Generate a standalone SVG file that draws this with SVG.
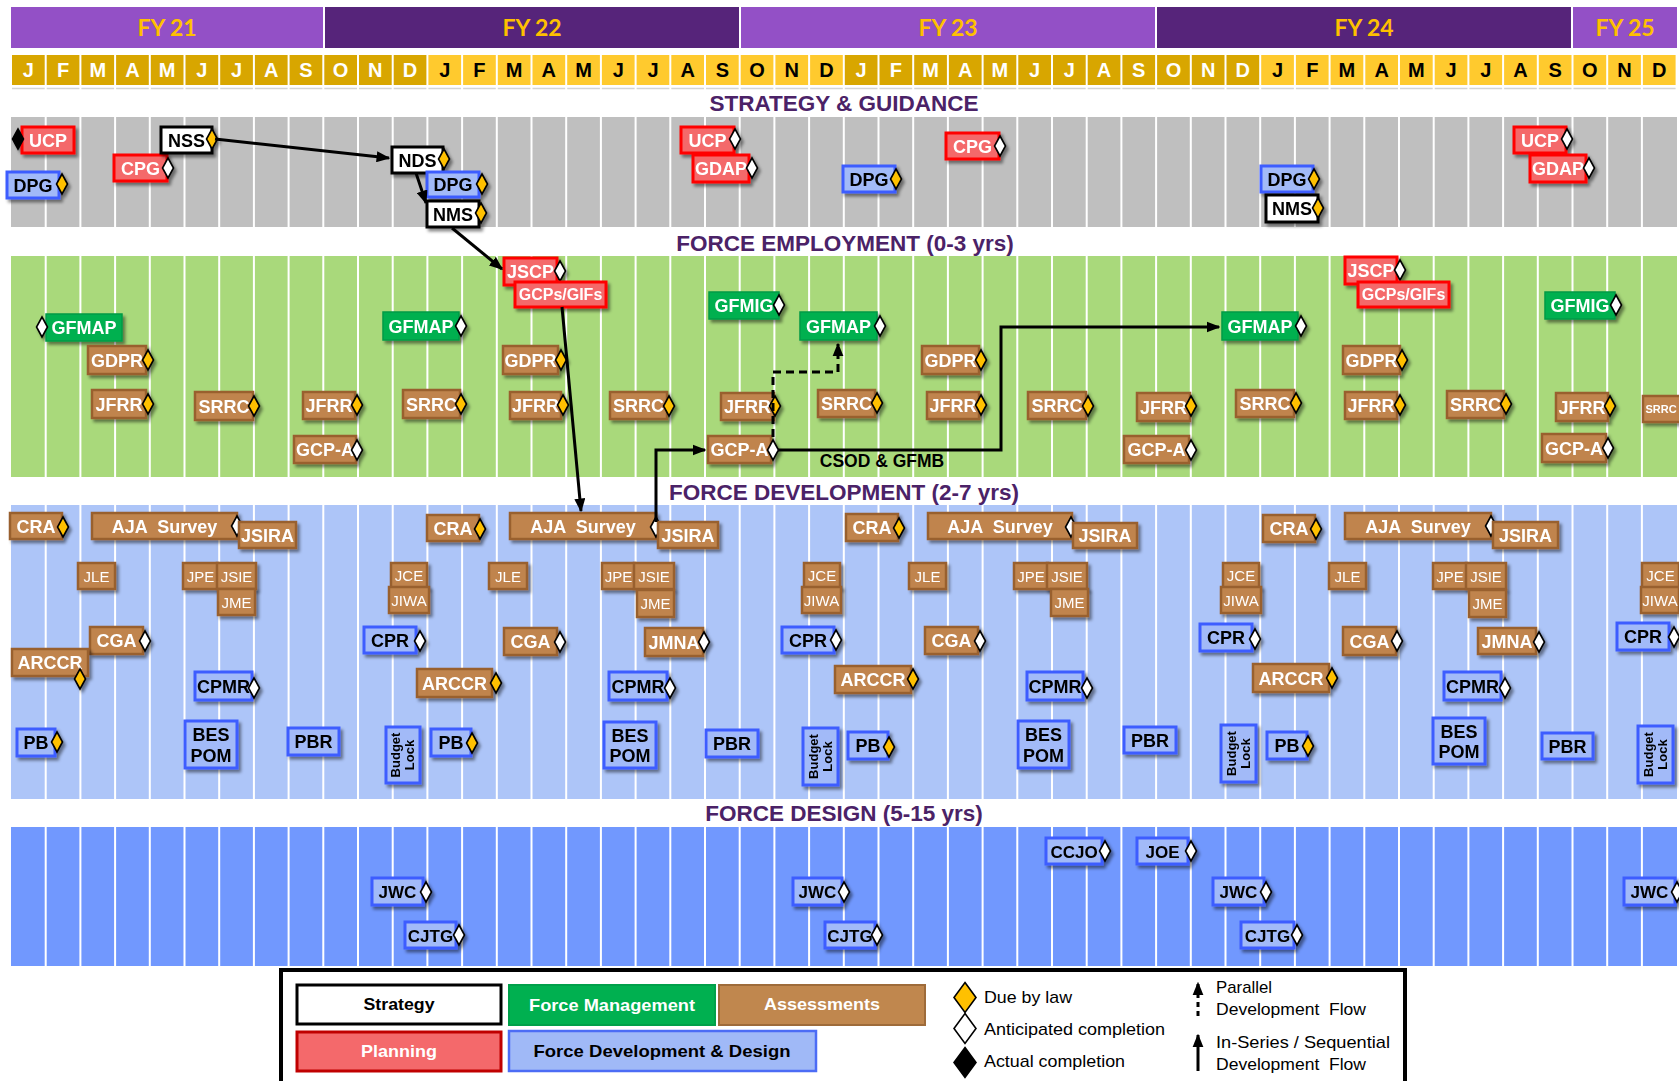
<svg xmlns="http://www.w3.org/2000/svg" xmlns:xlink="http://www.w3.org/1999/xlink" width="1679" height="1081" viewBox="0 0 1679 1081">
<style>
text{font-family:"Liberation Sans",Arial,sans-serif}
.fy{font-family:Lato,"Liberation Sans",sans-serif;font-weight:bold;font-size:23px;fill:#FFC000;text-anchor:middle}
.fyl{fill:#9350C6}.fyd{fill:#56247A}
.md{fill:#D8A600}.mb{fill:#FFCA2E}
.mt{font-weight:bold;font-size:20px;text-anchor:middle}
.mw{fill:#fff}.mk{fill:#000}
.sec{font-weight:bold;font-size:22.5px;fill:#4B2267;text-anchor:middle}
.n{filter:url(#sh)}
.n text{font-weight:bold;font-size:18px;text-anchor:middle;fill:#fff}
.st rect{fill:#fff;stroke:#000;stroke-width:3}
.st text,.dv text{fill:#000}
.pl rect{fill:#F4696B;stroke:#FF0000;stroke-width:3}
.fm rect{fill:#00B050;stroke:#009A46;stroke-width:1.5}
.as rect{fill:#C0844E;stroke:#99612F;stroke-width:2.5}
.dv rect{fill:#A2BAF8;stroke:#3C5DFF;stroke-width:3}
.n.sm text{font-weight:normal;font-size:15px}
.n.dz text{font-size:17px}
.n.bl text{font-size:13px}
.due{fill:#FFC000;stroke:#000;stroke-width:1.6}
.ant{fill:#fff;stroke:#000;stroke-width:1.6}
.act{fill:#000;stroke:#000;stroke-width:1.6}
.cn{fill:none;stroke:#000;stroke-width:3}
.lg{font-size:17px}
.lb{font-weight:bold;font-size:17px;text-anchor:middle}
</style>
<defs>
<filter id="sh" x="-20%" y="-20%" width="150%" height="160%"><feDropShadow dx="2.5" dy="3" stdDeviation="1.6" flood-color="#000" flood-opacity="0.45"/></filter>
<marker id="ah" viewBox="0 0 10 8" refX="9" refY="4" markerWidth="4.6" markerHeight="3.7" orient="auto" markerUnits="strokeWidth"><path d="M0,0L10,4L0,8z" fill="#000"/></marker>
<path id="dm" d="M0,-10L5.5,0L0,10L-5.5,0Z"/>
<path id="dmL" d="M0,-15L11,0L0,15L-11,0Z"/>
</defs>
<rect x="0" y="0" width="1679" height="1081" fill="#fff"/>

<g id="header">
<rect class="fyl" x="11" y="7" width="312" height="41"/>
<rect class="fyd" x="325" y="7" width="414" height="41"/>
<rect class="fyl" x="741" y="7" width="414" height="41"/>
<rect class="fyd" x="1157" y="7" width="414" height="41"/>
<rect class="fyl" x="1573" y="7" width="104" height="41"/>
<text class="fy" x="167" y="36">FY 21</text>
<text class="fy" x="532" y="36">FY 22</text>
<text class="fy" x="948" y="36">FY 23</text>
<text class="fy" x="1364" y="36">FY 24</text>
<text class="fy" x="1625" y="36">FY 25</text>
<g id="months">
<rect class="md" x="12" y="55" width="32.7" height="30"/><rect class="md" x="46.7" y="55" width="32.7" height="30"/><rect class="md" x="81.4" y="55" width="32.7" height="30"/><rect class="md" x="116.1" y="55" width="32.7" height="30"/><rect class="md" x="150.8" y="55" width="32.7" height="30"/><rect class="md" x="185.5" y="55" width="32.7" height="30"/><rect class="md" x="220.2" y="55" width="32.7" height="30"/><rect class="md" x="254.9" y="55" width="32.7" height="30"/><rect class="md" x="289.6" y="55" width="32.7" height="30"/><rect class="md" x="324.3" y="55" width="32.7" height="30"/><rect class="md" x="359" y="55" width="32.7" height="30"/><rect class="md" x="393.7" y="55" width="32.7" height="30"/>
<rect class="mb" x="428.4" y="55" width="32.7" height="30"/><rect class="mb" x="463.1" y="55" width="32.7" height="30"/><rect class="mb" x="497.8" y="55" width="32.7" height="30"/><rect class="mb" x="532.5" y="55" width="32.7" height="30"/><rect class="mb" x="567.2" y="55" width="32.7" height="30"/><rect class="mb" x="601.9" y="55" width="32.7" height="30"/><rect class="mb" x="636.6" y="55" width="32.7" height="30"/><rect class="mb" x="671.3" y="55" width="32.7" height="30"/><rect class="mb" x="706" y="55" width="32.7" height="30"/><rect class="mb" x="740.7" y="55" width="32.7" height="30"/><rect class="mb" x="775.4" y="55" width="32.7" height="30"/><rect class="mb" x="810.1" y="55" width="32.7" height="30"/>
<rect class="md" x="844.8" y="55" width="32.7" height="30"/><rect class="md" x="879.5" y="55" width="32.7" height="30"/><rect class="md" x="914.2" y="55" width="32.7" height="30"/><rect class="md" x="948.9" y="55" width="32.7" height="30"/><rect class="md" x="983.6" y="55" width="32.7" height="30"/><rect class="md" x="1018.3" y="55" width="32.7" height="30"/><rect class="md" x="1053" y="55" width="32.7" height="30"/><rect class="md" x="1087.7" y="55" width="32.7" height="30"/><rect class="md" x="1122.4" y="55" width="32.7" height="30"/><rect class="md" x="1157.1" y="55" width="32.7" height="30"/><rect class="md" x="1191.8" y="55" width="32.7" height="30"/><rect class="md" x="1226.5" y="55" width="32.7" height="30"/>
<rect class="mb" x="1261.2" y="55" width="32.7" height="30"/><rect class="mb" x="1295.9" y="55" width="32.7" height="30"/><rect class="mb" x="1330.6" y="55" width="32.7" height="30"/><rect class="mb" x="1365.3" y="55" width="32.7" height="30"/><rect class="mb" x="1400" y="55" width="32.7" height="30"/><rect class="mb" x="1434.7" y="55" width="32.7" height="30"/><rect class="mb" x="1469.4" y="55" width="32.7" height="30"/><rect class="mb" x="1504.1" y="55" width="32.7" height="30"/><rect class="mb" x="1538.8" y="55" width="32.7" height="30"/><rect class="mb" x="1573.5" y="55" width="32.7" height="30"/><rect class="mb" x="1608.2" y="55" width="32.7" height="30"/><rect class="mb" x="1642.9" y="55" width="32.7" height="30"/>
<g class="mt mw">
<text x="28.35" y="77">J</text><text x="63.05" y="77">F</text><text x="97.75" y="77">M</text><text x="132.45" y="77">A</text><text x="167.15" y="77">M</text><text x="201.85" y="77">J</text><text x="236.55" y="77">J</text><text x="271.25" y="77">A</text><text x="305.95" y="77">S</text><text x="340.65" y="77">O</text><text x="375.35" y="77">N</text><text x="410.05" y="77">D</text>
<text x="861.15" y="77">J</text><text x="895.85" y="77">F</text><text x="930.55" y="77">M</text><text x="965.25" y="77">A</text><text x="999.95" y="77">M</text><text x="1034.65" y="77">J</text><text x="1069.35" y="77">J</text><text x="1104.05" y="77">A</text><text x="1138.75" y="77">S</text><text x="1173.45" y="77">O</text><text x="1208.15" y="77">N</text><text x="1242.85" y="77">D</text>
</g>
<g class="mt mk">
<text x="444.75" y="77">J</text><text x="479.45" y="77">F</text><text x="514.15" y="77">M</text><text x="548.85" y="77">A</text><text x="583.55" y="77">M</text><text x="618.25" y="77">J</text><text x="652.95" y="77">J</text><text x="687.65" y="77">A</text><text x="722.35" y="77">S</text><text x="757.05" y="77">O</text><text x="791.75" y="77">N</text><text x="826.45" y="77">D</text>
<text x="1277.55" y="77">J</text><text x="1312.25" y="77">F</text><text x="1346.95" y="77">M</text><text x="1381.65" y="77">A</text><text x="1416.35" y="77">M</text><text x="1451.05" y="77">J</text><text x="1485.75" y="77">J</text><text x="1520.45" y="77">A</text><text x="1555.15" y="77">S</text><text x="1589.85" y="77">O</text><text x="1624.55" y="77">N</text><text x="1659.25" y="77">D</text>
</g>
</g>
<line x1="12" y1="88.5" x2="1677" y2="88.5" stroke="#D4D4D4" stroke-width="1.5" stroke-dasharray="32.7 2"/>
</g>

<g id="bands">
<rect x="11" y="117" width="1666" height="110" fill="#BFBFBF"/>
<rect x="11" y="256" width="1666" height="221" fill="#A9D97B"/>
<rect x="11" y="505" width="1666" height="294" fill="#ADC5F8"/>
<rect x="11" y="827" width="1666" height="139" fill="#7198FE"/>
<path fill="none" stroke="#fff" stroke-width="2" d="M45.7,117V966M80.4,117V966M115.1,117V966M149.8,117V966M184.5,117V966M219.2,117V966M253.9,117V966M288.6,117V966M323.3,117V966M358,117V966M392.7,117V966M427.4,117V966M462.1,117V966M496.8,117V966M531.5,117V966M566.2,117V966M600.9,117V966M635.6,117V966M670.3,117V966M705,117V966M739.7,117V966M774.4,117V966M809.1,117V966M843.8,117V966M878.5,117V966M913.2,117V966M947.9,117V966M982.6,117V966M1017.3,117V966M1052,117V966M1086.7,117V966M1121.4,117V966M1156.1,117V966M1190.8,117V966M1225.5,117V966M1260.2,117V966M1294.9,117V966M1329.6,117V966M1364.3,117V966M1399,117V966M1433.7,117V966M1468.4,117V966M1503.1,117V966M1537.8,117V966M1572.5,117V966M1607.2,117V966M1641.9,117V966"/>
</g>

<g id="section-labels">
<text class="sec" x="844" y="111">STRATEGY &amp; GUIDANCE</text>
<text class="sec" x="845" y="251">FORCE EMPLOYMENT (0-3 yrs)</text>
<text class="sec" x="844" y="500">FORCE DEVELOPMENT (2-7 yrs)</text>
<text class="sec" x="844" y="821">FORCE DESIGN (5-15 yrs)</text>
</g>

<g id="strategy-nodes">
<g id="s-ucp1" class="n pl"><rect x="22" y="127" width="52" height="26"/><text x="48" y="146.5">UCP</text><use href="#dm" class="act" x="18" y="139"/></g>
<g id="s-dpg1" class="n dv"><rect x="7" y="172" width="52" height="26"/><text x="33" y="191.5">DPG</text><use href="#dm" class="due" x="62" y="184"/></g>
<g id="s-cpg1" class="n pl"><rect x="114" y="155" width="53" height="26"/><text x="140.5" y="174.5">CPG</text><use href="#dm" class="ant" x="168" y="168"/></g>
<g id="s-nss" class="n st"><rect x="161" y="127" width="51" height="26"/><text x="186.5" y="146.5">NSS</text><use href="#dm" class="due" x="212" y="139"/></g>
<g id="s-nds" class="n st"><rect x="392" y="147" width="51" height="26"/><text x="417.5" y="166.5">NDS</text><use href="#dm" class="due" x="444" y="159"/></g>
<g id="s-dpg2" class="n dv"><rect x="427" y="172" width="52" height="25"/><text x="453" y="191">DPG</text><use href="#dm" class="due" x="482" y="184"/></g>
<g id="s-nms1" class="n st"><rect x="427" y="201" width="52" height="26"/><text x="453" y="220.5">NMS</text><use href="#dm" class="due" x="481" y="213"/></g>
<g id="s-ucp2" class="n pl"><rect x="681" y="127" width="53" height="26"/><text x="707.5" y="146.5">UCP</text><use href="#dm" class="ant" x="735" y="139"/></g>
<g id="s-gdap1" class="n pl"><rect x="693" y="155" width="56" height="27"/><text x="721" y="175">GDAP</text><use href="#dm" class="ant" x="752" y="168"/></g>
<g id="s-dpg3" class="n dv"><rect x="843" y="166" width="52" height="26"/><text x="869" y="185.5">DPG</text><use href="#dm" class="due" x="896" y="179"/></g>
<g id="s-cpg2" class="n pl"><rect x="946" y="133" width="53" height="26"/><text x="972.5" y="152.5">CPG</text><use href="#dm" class="ant" x="1000" y="146"/></g>
<g id="s-dpg4" class="n dv"><rect x="1261" y="166" width="52" height="26"/><text x="1287" y="185.5">DPG</text><use href="#dm" class="due" x="1314" y="179"/></g>
<g id="s-nms2" class="n st"><rect x="1266" y="195" width="52" height="27"/><text x="1292" y="215">NMS</text><use href="#dm" class="due" x="1318" y="208"/></g>
<g id="s-ucp3" class="n pl"><rect x="1514" y="127" width="52" height="26"/><text x="1540" y="146.5">UCP</text><use href="#dm" class="ant" x="1567" y="139"/></g>
<g id="s-gdap2" class="n pl"><rect x="1530" y="155" width="56" height="27"/><text x="1558" y="175">GDAP</text><use href="#dm" class="ant" x="1589" y="168"/></g>
</g>

<g id="employment-nodes">
<g id="fe-gfmap1" class="n fm"><rect x="46" y="314" width="76" height="27"/><text x="84" y="334">GFMAP</text><use href="#dm" class="ant" x="42" y="327"/></g>
<g id="fe-gdpr1" class="n as"><rect x="88" y="346" width="58" height="28"/><text x="117" y="366.5">GDPR</text><use href="#dm" class="due" x="148" y="360"/></g>
<g id="fe-jfrr1" class="n as"><rect x="92" y="390" width="54" height="28"/><text x="119" y="410.5">JFRR</text><use href="#dm" class="due" x="148" y="404"/></g>
<g id="fe-srrc1" class="n as"><rect x="195" y="392" width="58" height="28"/><text x="224" y="412.5">SRRC</text><use href="#dm" class="due" x="254" y="406"/></g>
<g id="fe-jfrr2" class="n as"><rect x="303" y="392" width="52" height="27"/><text x="329" y="412">JFRR</text><use href="#dm" class="due" x="357" y="405"/></g>
<g id="fe-gcpa1" class="n as"><rect x="294" y="436" width="62" height="27"/><text x="325" y="456">GCP-A</text><use href="#dm" class="ant" x="357" y="450"/></g>
<g id="fe-gfmap2" class="n fm"><rect x="383" y="312" width="76" height="28"/><text x="421" y="332.5">GFMAP</text><use href="#dm" class="ant" x="461" y="326"/></g>
<g id="fe-srrc2" class="n as"><rect x="403" y="390" width="57" height="28"/><text x="431.5" y="410.5">SRRC</text><use href="#dm" class="due" x="461" y="404"/></g>
<g id="fe-jscp1" class="n pl"><rect x="504" y="258" width="53" height="27"/><text x="530.5" y="278">JSCP</text><use href="#dm" class="ant" x="560" y="271"/></g>
<g id="fe-gcps1" class="n pl"><rect x="515" y="282" width="91" height="25"/><text x="560.5" y="300" style="font-size:16px">GCPs/GIFs</text></g>
<g id="fe-gdpr2" class="n as"><rect x="503" y="346" width="55" height="28"/><text x="530.5" y="366.5">GDPR</text><use href="#dm" class="due" x="561" y="360"/></g>
<g id="fe-jfrr3" class="n as"><rect x="510" y="392" width="51" height="27"/><text x="535.5" y="412">JFRR</text><use href="#dm" class="due" x="563" y="405"/></g>
<g id="fe-srrc3" class="n as"><rect x="610" y="392" width="57" height="27"/><text x="638.5" y="412">SRRC</text><use href="#dm" class="due" x="669" y="406"/></g>
<g id="fe-gfmig1" class="n fm"><rect x="709" y="292" width="70" height="27"/><text x="744" y="312">GFMIG</text><use href="#dm" class="ant" x="779" y="305"/></g>
<g id="fe-jfrr4" class="n as"><rect x="721" y="393" width="53" height="27"/><text x="747.5" y="413">JFRR</text><use href="#dm" class="due" x="775" y="406"/></g>
<g id="fe-gcpa2" class="n as"><rect x="708" y="436" width="63" height="27"/><text x="739.5" y="456">GCP-A</text><use href="#dm" class="ant" x="773" y="450"/></g>
<g id="fe-gfmap3" class="n fm"><rect x="800" y="312" width="77" height="28"/><text x="838.5" y="332.5">GFMAP</text><use href="#dm" class="ant" x="880" y="326"/></g>
<g id="fe-srrc4" class="n as"><rect x="818" y="390" width="57" height="27"/><text x="846.5" y="410">SRRC</text><use href="#dm" class="due" x="877" y="403"/></g>
<g id="fe-gdpr3" class="n as"><rect x="922" y="346" width="57" height="28"/><text x="950.5" y="366.5">GDPR</text><use href="#dm" class="due" x="981" y="360"/></g>
<g id="fe-jfrr5" class="n as"><rect x="927" y="392" width="52" height="27"/><text x="953" y="412">JFRR</text><use href="#dm" class="due" x="981" y="405"/></g>
<g id="fe-srrc5" class="n as"><rect x="1028" y="392" width="58" height="27"/><text x="1057" y="412">SRRC</text><use href="#dm" class="due" x="1088" y="406"/></g>
<g id="fe-jfrr6" class="n as"><rect x="1137" y="393" width="53" height="28"/><text x="1163.5" y="413.5">JFRR</text><use href="#dm" class="due" x="1191" y="406"/></g>
<g id="fe-gcpa3" class="n as"><rect x="1124" y="436" width="65" height="27"/><text x="1156.5" y="456">GCP-A</text><use href="#dm" class="ant" x="1191" y="450"/></g>
<g id="fe-gfmap4" class="n fm"><rect x="1222" y="312" width="76" height="28"/><text x="1260" y="332.5">GFMAP</text><use href="#dm" class="ant" x="1301" y="326"/></g>
<g id="fe-srrc6" class="n as"><rect x="1236" y="390" width="58" height="27"/><text x="1265" y="410">SRRC</text><use href="#dm" class="due" x="1296" y="403"/></g>
<g id="fe-jscp2" class="n pl"><rect x="1345" y="257" width="52" height="27"/><text x="1371" y="277">JSCP</text><use href="#dm" class="ant" x="1400" y="270"/></g>
<g id="fe-gcps2" class="n pl"><rect x="1358" y="282" width="91" height="25"/><text x="1403.5" y="300" style="font-size:16px">GCPs/GIFs</text></g>
<g id="fe-gdpr4" class="n as"><rect x="1343" y="346" width="57" height="28"/><text x="1371.5" y="366.5">GDPR</text><use href="#dm" class="due" x="1402" y="360"/></g>
<g id="fe-jfrr7" class="n as"><rect x="1345" y="392" width="52" height="27"/><text x="1371" y="412">JFRR</text><use href="#dm" class="due" x="1400" y="405"/></g>
<g id="fe-srrc7" class="n as"><rect x="1447" y="391" width="57" height="27"/><text x="1475.5" y="411">SRRC</text><use href="#dm" class="due" x="1506" y="404"/></g>
<g id="fe-gfmig2" class="n fm"><rect x="1545" y="292" width="70" height="27"/><text x="1580" y="312">GFMIG</text><use href="#dm" class="ant" x="1616" y="305"/></g>
<g id="fe-jfrr8" class="n as"><rect x="1556" y="393" width="52" height="28"/><text x="1582" y="413.5">JFRR</text><use href="#dm" class="due" x="1610" y="406"/></g>
<g id="fe-gcpa4" class="n as"><rect x="1542" y="434" width="64" height="28"/><text x="1574" y="454.5">GCP-A</text><use href="#dm" class="ant" x="1608" y="448"/></g>
<g id="fe-srrc8" class="n as"><rect x="1643" y="396" width="40" height="26"/><text x="1661" y="413" style="font-size:11px">SRRC</text></g>
</g>

<g id="development-nodes">
<g id="fd-cra1" class="n as"><rect x="10" y="513" width="52" height="26"/><text x="36" y="532.5">CRA</text><use href="#dm" class="due" x="63" y="527"/></g>
<g id="fd-aja1" class="n as"><rect x="92" y="513" width="145" height="26"/><text x="164.5" y="532.5" xml:space="preserve">AJA  Survey</text><use href="#dm" class="ant" x="237" y="526"/></g>
<g id="fd-jsira1" class="n as"><rect x="239" y="522" width="57" height="26"/><text x="267.5" y="541.5">JSIRA</text></g>
<g id="fd-jle1" class="n as sm"><rect x="78" y="563" width="37" height="26"/><text x="96.5" y="581.5">JLE</text></g>
<g id="fd-jpe1" class="n as sm"><rect x="183" y="563" width="35" height="26"/><text x="200.5" y="581.5">JPE</text></g>
<g id="fd-jsie1" class="n as sm"><rect x="217" y="563" width="39" height="26"/><text x="236.5" y="581.5">JSIE</text></g>
<g id="fd-jme1" class="n as sm"><rect x="218" y="589" width="37" height="26"/><text x="236.5" y="607.5">JME</text></g>
<g id="fd-cga1" class="n as"><rect x="90" y="627" width="53" height="27"/><text x="116.5" y="647">CGA</text><use href="#dm" class="ant" x="145" y="641"/></g>
<g id="fd-arccr1" class="n as"><rect x="12" y="649" width="76" height="27"/><text x="50" y="669">ARCCR</text><use href="#dm" class="due" x="80" y="679"/></g>
<g id="fd-cpmr1" class="n dv"><rect x="195" y="672" width="57" height="28"/><text x="223.5" y="692.5">CPMR</text><use href="#dm" class="ant" x="254" y="688"/></g>
<g id="fd-pb1" class="n dv"><rect x="17" y="729" width="38" height="27"/><text x="36" y="749">PB</text><use href="#dm" class="due" x="57" y="742"/></g>
<g id="fd-bes1" class="n dv"><rect x="185" y="721" width="52" height="47"/><text x="211" y="741">BES</text><text x="211" y="762">POM</text></g>
<g id="fd-pbr1" class="n dv"><rect x="288" y="728" width="51" height="27"/><text x="313.5" y="748">PBR</text></g>
<g id="fd-bl1" class="n dv bl"><rect x="386" y="727" width="34" height="56"/><g transform="translate(403,755) rotate(-90)"><text x="0" y="-3">Budget</text><text x="0" y="11">Lock</text></g></g>
<g id="fd-cra2" class="n as"><rect x="427" y="515" width="52" height="26"/><text x="453" y="534.5">CRA</text><use href="#dm" class="due" x="480" y="529"/></g>
<g id="fd-jce1" class="n as sm"><rect x="391" y="563" width="36" height="25"/><text x="409" y="581">JCE</text></g>
<g id="fd-jiwa1" class="n as sm"><rect x="389" y="587" width="40" height="26"/><text x="409" y="605.5">JIWA</text></g>
<g id="fd-jle2" class="n as sm"><rect x="489" y="563" width="38" height="26"/><text x="508" y="581.5">JLE</text></g>
<g id="fd-cpr1" class="n dv"><rect x="364" y="627" width="52" height="26"/><text x="390" y="646.5">CPR</text><use href="#dm" class="ant" x="420" y="641"/></g>
<g id="fd-cga2" class="n as"><rect x="504" y="628" width="53" height="27"/><text x="530.5" y="648">CGA</text><use href="#dm" class="ant" x="560" y="642"/></g>
<g id="fd-arccr2" class="n as"><rect x="417" y="669" width="75" height="28"/><text x="454.5" y="689.5">ARCCR</text><use href="#dm" class="due" x="496" y="683"/></g>
<g id="fd-pb2" class="n dv"><rect x="431" y="729" width="40" height="27"/><text x="451" y="749">PB</text><use href="#dm" class="due" x="472" y="743"/></g>
<g id="fd-aja2" class="n as"><rect x="510" y="513" width="146" height="26"/><text x="583" y="532.5" xml:space="preserve">AJA  Survey</text><use href="#dm" class="ant" x="656" y="527"/></g>
<g id="fd-jsira2" class="n as"><rect x="658" y="522" width="60" height="26"/><text x="688" y="541.5">JSIRA</text></g>
<g id="fd-jpe2" class="n as sm"><rect x="602" y="563" width="33" height="26"/><text x="618.5" y="581.5">JPE</text></g>
<g id="fd-jsie2" class="n as sm"><rect x="634" y="563" width="40" height="26"/><text x="654" y="581.5">JSIE</text></g>
<g id="fd-jme2" class="n as sm"><rect x="637" y="590" width="37" height="27"/><text x="655.5" y="609">JME</text></g>
<g id="fd-jmna1" class="n as"><rect x="645" y="628" width="58" height="28"/><text x="674" y="648.5">JMNA</text><use href="#dm" class="ant" x="704" y="642"/></g>
<g id="fd-cpmr2" class="n dv"><rect x="609" y="672" width="58" height="28"/><text x="638" y="692.5">CPMR</text><use href="#dm" class="ant" x="670" y="688"/></g>
<g id="fd-bes2" class="n dv"><rect x="604" y="722" width="52" height="46"/><text x="630" y="742">BES</text><text x="630" y="762">POM</text></g>
<g id="fd-pbr2" class="n dv"><rect x="706" y="730" width="52" height="27"/><text x="732" y="750">PBR</text></g>
<g id="fd-bl2" class="n dv bl"><rect x="803" y="728" width="35" height="57"/><g transform="translate(820.5,756.5) rotate(-90)"><text x="0" y="-3">Budget</text><text x="0" y="11">Lock</text></g></g>
<g id="fd-pb3" class="n dv"><rect x="848" y="732" width="40" height="27"/><text x="868" y="752">PB</text><use href="#dm" class="due" x="889" y="747"/></g>
<g id="fd-cra3" class="n as"><rect x="846" y="514" width="52" height="27"/><text x="872" y="534">CRA</text><use href="#dm" class="due" x="899" y="528"/></g>
<g id="fd-aja3" class="n as"><rect x="928" y="513" width="144" height="26"/><text x="1000" y="532.5" xml:space="preserve">AJA  Survey</text><use href="#dm" class="ant" x="1071" y="527"/></g>
<g id="fd-jsira3" class="n as"><rect x="1073" y="523" width="64" height="25"/><text x="1105" y="542">JSIRA</text></g>
<g id="fd-jce2" class="n as sm"><rect x="804" y="563" width="36" height="25"/><text x="822" y="581">JCE</text></g>
<g id="fd-jiwa2" class="n as sm"><rect x="802" y="587" width="39" height="26"/><text x="821.5" y="605.5">JIWA</text></g>
<g id="fd-jle3" class="n as sm"><rect x="909" y="563" width="37" height="26"/><text x="927.5" y="581.5">JLE</text></g>
<g id="fd-jpe3" class="n as sm"><rect x="1014" y="563" width="34" height="26"/><text x="1031" y="581.5">JPE</text></g>
<g id="fd-jsie3" class="n as sm"><rect x="1047" y="563" width="40" height="26"/><text x="1067" y="581.5">JSIE</text></g>
<g id="fd-jme3" class="n as sm"><rect x="1051" y="589" width="37" height="27"/><text x="1069.5" y="608">JME</text></g>
<g id="fd-cpr2" class="n dv"><rect x="782" y="627" width="52" height="26"/><text x="808" y="646.5">CPR</text><use href="#dm" class="ant" x="836" y="640"/></g>
<g id="fd-cga3" class="n as"><rect x="925" y="627" width="53" height="27"/><text x="951.5" y="647">CGA</text><use href="#dm" class="ant" x="980" y="641"/></g>
<g id="fd-arccr3" class="n as"><rect x="835" y="666" width="76" height="27"/><text x="873" y="686">ARCCR</text><use href="#dm" class="due" x="913" y="679"/></g>
<g id="fd-cpmr3" class="n dv"><rect x="1027" y="672" width="56" height="28"/><text x="1055" y="692.5">CPMR</text><use href="#dm" class="ant" x="1087" y="688"/></g>
<g id="fd-bes3" class="n dv"><rect x="1018" y="721" width="51" height="47"/><text x="1043.5" y="741">BES</text><text x="1043.5" y="762">POM</text></g>
<g id="fd-pbr3" class="n dv"><rect x="1124" y="727" width="52" height="26"/><text x="1150" y="746.5">PBR</text></g>
<g id="fd-cra4" class="n as"><rect x="1263" y="515" width="52" height="27"/><text x="1289" y="535">CRA</text><use href="#dm" class="due" x="1316" y="529"/></g>
<g id="fd-aja4" class="n as"><rect x="1345" y="513" width="146" height="26"/><text x="1418" y="532.5" xml:space="preserve">AJA  Survey</text><use href="#dm" class="ant" x="1491" y="526"/></g>
<g id="fd-jsira4" class="n as"><rect x="1493" y="522" width="65" height="26"/><text x="1525.5" y="541.5">JSIRA</text></g>
<g id="fd-jce3" class="n as sm"><rect x="1223" y="563" width="36" height="25"/><text x="1241" y="581">JCE</text></g>
<g id="fd-jiwa3" class="n as sm"><rect x="1221" y="587" width="40" height="26"/><text x="1241" y="605.5">JIWA</text></g>
<g id="fd-jle4" class="n as sm"><rect x="1329" y="563" width="37" height="26"/><text x="1347.5" y="581.5">JLE</text></g>
<g id="fd-jpe4" class="n as sm"><rect x="1433" y="563" width="34" height="26"/><text x="1450" y="581.5">JPE</text></g>
<g id="fd-jsie4" class="n as sm"><rect x="1466" y="563" width="40" height="26"/><text x="1486" y="581.5">JSIE</text></g>
<g id="fd-jme4" class="n as sm"><rect x="1469" y="590" width="37" height="27"/><text x="1487.5" y="609">JME</text></g>
<g id="fd-jce4" class="n as sm"><rect x="1642" y="563" width="37" height="25"/><text x="1660.5" y="581">JCE</text></g>
<g id="fd-jiwa4" class="n as sm"><rect x="1641" y="587" width="38" height="26"/><text x="1660" y="605.5">JIWA</text></g>
<g id="fd-cpr3" class="n dv"><rect x="1200" y="624" width="52" height="27"/><text x="1226" y="644">CPR</text><use href="#dm" class="ant" x="1255" y="639"/></g>
<g id="fd-cga4" class="n as"><rect x="1343" y="627" width="53" height="28"/><text x="1369.5" y="647.5">CGA</text><use href="#dm" class="ant" x="1397" y="641"/></g>
<g id="fd-jmna2" class="n as"><rect x="1478" y="628" width="58" height="26"/><text x="1507" y="647.5">JMNA</text><use href="#dm" class="ant" x="1539" y="642"/></g>
<g id="fd-cpr4" class="n dv"><rect x="1617" y="623" width="52" height="27"/><text x="1643" y="643">CPR</text><use href="#dm" class="ant" x="1674" y="637"/></g>
<g id="fd-arccr4" class="n as"><rect x="1253" y="664" width="76" height="28"/><text x="1291" y="684.5">ARCCR</text><use href="#dm" class="due" x="1332" y="678"/></g>
<g id="fd-cpmr4" class="n dv"><rect x="1444" y="672" width="57" height="28"/><text x="1472.5" y="692.5">CPMR</text><use href="#dm" class="ant" x="1505" y="688"/></g>
<g id="fd-pb4" class="n dv"><rect x="1267" y="732" width="40" height="27"/><text x="1287" y="752">PB</text><use href="#dm" class="due" x="1308" y="746"/></g>
<g id="fd-bl3" class="n dv bl"><rect x="1221" y="725" width="35" height="57"/><g transform="translate(1238.5,753.5) rotate(-90)"><text x="0" y="-3">Budget</text><text x="0" y="11">Lock</text></g></g>
<g id="fd-bes4" class="n dv"><rect x="1433" y="718" width="52" height="46"/><text x="1459" y="738">BES</text><text x="1459" y="758">POM</text></g>
<g id="fd-pbr4" class="n dv"><rect x="1542" y="733" width="51" height="26"/><text x="1567.5" y="752.5">PBR</text></g>
<g id="fd-bl4" class="n dv bl"><rect x="1638" y="726" width="35" height="57"/><g transform="translate(1655.5,754.5) rotate(-90)"><text x="0" y="-3">Budget</text><text x="0" y="11">Lock</text></g></g>
</g>

<g id="design-nodes">
<g id="fdz-jwc1" class="n dv dz"><rect x="372" y="878" width="51" height="27"/><text x="397.5" y="898">JWC</text><use href="#dm" class="ant" x="426" y="892"/></g>
<g id="fdz-cjtg1" class="n dv dz"><rect x="405" y="922" width="51" height="26"/><text x="430.5" y="941.5">CJTG</text><use href="#dm" class="ant" x="459" y="935"/></g>
<g id="fdz-jwc2" class="n dv dz"><rect x="793" y="878" width="49" height="27"/><text x="817.5" y="898">JWC</text><use href="#dm" class="ant" x="844" y="892"/></g>
<g id="fdz-cjtg2" class="n dv dz"><rect x="825" y="922" width="50" height="26"/><text x="850" y="941.5">CJTG</text><use href="#dm" class="ant" x="877" y="935"/></g>
<g id="fdz-ccjo" class="n dv dz"><rect x="1046" y="838" width="56" height="26"/><text x="1074" y="857.5">CCJO</text><use href="#dm" class="ant" x="1105" y="851"/></g>
<g id="fdz-joe" class="n dv dz"><rect x="1137" y="838" width="51" height="26"/><text x="1162.5" y="857.5">JOE</text><use href="#dm" class="ant" x="1191" y="851"/></g>
<g id="fdz-jwc3" class="n dv dz"><rect x="1213" y="878" width="51" height="27"/><text x="1238.5" y="898">JWC</text><use href="#dm" class="ant" x="1266" y="892"/></g>
<g id="fdz-cjtg3" class="n dv dz"><rect x="1241" y="922" width="53" height="26"/><text x="1267.5" y="941.5">CJTG</text><use href="#dm" class="ant" x="1297" y="935"/></g>
<g id="fdz-jwc4" class="n dv dz"><rect x="1624" y="878" width="51" height="27"/><text x="1649.5" y="898">JWC</text><use href="#dm" class="ant" x="1677" y="892"/></g>
</g>

<g id="connectors">
<path class="cn" d="M215,139L389,158" marker-end="url(#ah)"/>
<path class="cn" d="M416,173L426,203" marker-end="url(#ah)"/>
<path class="cn" d="M452,228L502,269" marker-end="url(#ah)"/>
<path class="cn" d="M562,307L581,511" marker-end="url(#ah)"/>
<path class="cn" d="M656,522V450H705" marker-end="url(#ah)"/>
<path class="cn" d="M778,450H1001V327H1219" marker-end="url(#ah)"/>
<path class="cn" d="M773,437V372H838V344" stroke-dasharray="8 5" marker-end="url(#ah)"/>
<text x="882" y="467" style="font-weight:bold;font-size:17.5px;text-anchor:middle">CSOD &amp; GFMB</text>
</g>

<g id="legend">
<rect x="281" y="970" width="1124" height="130" fill="#fff" stroke="#000" stroke-width="4"/>
<rect x="297" y="985" width="204" height="39" fill="#fff" stroke="#000" stroke-width="3"/>
<text class="lb" x="399" y="1010" textLength="71" lengthAdjust="spacingAndGlyphs">Strategy</text>
<rect x="509" y="985" width="206" height="40" fill="#00B050" stroke="#00A04A" stroke-width="2"/>
<text class="lb" x="612" y="1011" fill="#fff" textLength="166" lengthAdjust="spacingAndGlyphs">Force Management</text>
<rect x="719" y="985" width="206" height="40" fill="#C0874E" stroke="#9E6B3A" stroke-width="2"/>
<text class="lb" x="822" y="1010" fill="#fff" textLength="116" lengthAdjust="spacingAndGlyphs">Assessments</text>
<rect x="297" y="1032" width="204" height="39" fill="#F4696B" stroke="#C00000" stroke-width="3"/>
<text class="lb" x="399" y="1057" fill="#fff" textLength="76" lengthAdjust="spacingAndGlyphs">Planning</text>
<rect x="509" y="1031" width="307" height="40" fill="#A0B9F7" stroke="#4C6CF5" stroke-width="2.5"/>
<text class="lb" x="662" y="1057" textLength="257" lengthAdjust="spacingAndGlyphs">Force Development &amp; Design</text>
<use href="#dmL" class="due" x="965" y="997.5"/>
<use href="#dmL" class="ant" x="965" y="1028.5"/>
<use href="#dmL" class="act" x="965" y="1062.5"/>
<text class="lg" x="984" y="1003" textLength="88" lengthAdjust="spacingAndGlyphs">Due by law</text>
<text class="lg" x="984" y="1035" textLength="181" lengthAdjust="spacingAndGlyphs">Anticipated completion</text>
<text class="lg" x="984" y="1067" textLength="141" lengthAdjust="spacingAndGlyphs">Actual completion</text>
<path class="cn" d="M1198,1016V983" stroke-dasharray="5 4" marker-end="url(#ah)"/>
<path class="cn" d="M1198,1071V1035" marker-end="url(#ah)"/>
<text class="lg" x="1216" y="993" textLength="56" lengthAdjust="spacingAndGlyphs">Parallel</text>
<text class="lg" x="1216" y="1015" textLength="150" lengthAdjust="spacingAndGlyphs" xml:space="preserve">Development  Flow</text>
<text class="lg" x="1216" y="1048" textLength="174" lengthAdjust="spacingAndGlyphs">In-Series / Sequential</text>
<text class="lg" x="1216" y="1070" textLength="150" lengthAdjust="spacingAndGlyphs" xml:space="preserve">Development  Flow</text>
</g>
</svg>
